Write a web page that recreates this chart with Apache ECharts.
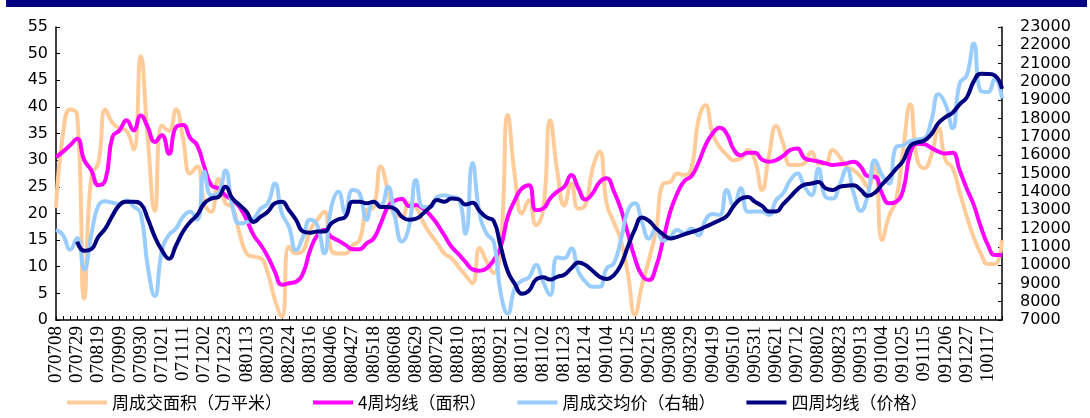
<!DOCTYPE html>
<html>
<head>
<meta charset="utf-8">
<script src="https://cdn.jsdelivr.net/npm/echarts@6/dist/echarts.min.js"></script>
<style>
  html, body { margin: 0; padding: 0; background: #fff; }
  #chart { width: 1090px; height: 418px; }
</style>
</head>
<body>
<div id="chart"></div>
<script>
// 周次（每周日期）
const weeks = [
  '070708','070715','070722','070729','070805','070812','070819','070826','070902','070909',
  '070916','070923','070930','071007','071014','071021','071028','071104','071111','071118',
  '071125','071202','071209','071216','071223','071230','080106','080113','080120','080127',
  '080203','080210','080217','080224','080302','080309','080316','080323','080330','080406',
  '080413','080420','080427','080504','080511','080518','080525','080601','080608','080615',
  '080622','080629','080706','080713','080720','080727','080803','080810','080817','080824',
  '080831','080907','080914','080921','080928','081005','081012','081019','081026','081102',
  '081109','081116','081123','081130','081207','081214','081221','081228','090104','090111',
  '090118','090125','090201','090208','090215','090222','090301','090308','090315','090322',
  '090329','090405','090412','090419','090426','090503','090510','090517','090524','090531',
  '090607','090614','090621','090628','090705','090712','090719','090726','090802','090809',
  '090816','090823','090830','090906','090913','090920','090927','091004','091011','091018',
  '091025','091101','091108','091115','091122','091129','091206','091213','091220','091227',
  '100103','100110','100117','100124','100131'
];

// 周成交面积（万平米）
const weeklyArea = [
  21, 35, 39.5, 38.5, 4, 27, 29.5, 39.5, 37, 36,
  35.5, 32, 49.5, 34, 20.5, 36.5, 35.5, 39.5, 34, 27.5,
  28.8, 21.9, 20.3, 26.5, 21.9, 21.2, 16.2, 12.5, 11.9, 11.6,
  8.8, 3.8, 0.6, 13.8, 12.5, 13, 16.9, 18.8, 20.3, 13.1,
  12.5, 12.5, 14, 15, 20.6, 21.2, 28.8, 24.4, 19.7, 19.4,
  21.9, 21.2, 18.4, 16.2, 14.4, 12.5, 11.6, 10, 8.4, 6.9,
  13.5, 11, 8.8, 14, 38.5, 27, 20, 22.5, 17.8, 20.6,
  37.5, 28, 21.5, 25.6, 20.9, 21.6, 28.4, 31.6, 21.9, 18.4,
  15, 8.75, 1, 6.5, 11.4, 16.9, 25.6, 25.9, 27.5, 27.2,
  28.4, 37.5, 40.3, 35, 32.5, 31, 30, 30.3, 31.9, 30,
  24.4, 30.9, 36.4, 33.1, 29.1, 29.1, 29.4, 31.6, 29.4, 29.4,
  31.9, 30.6, 28.75, 28.1, 26.9, 25, 29.5, 15, 19.5, 22.5,
  32, 40.5, 30, 28.5, 31, 36, 30, 28.5, 24, 19.5,
  15.5, 12.5, 10.5, 10.5, 15
];

// 4周均线（面积）
const areaMA4 = [
  30.6, 31.6, 32.8, 34, 30, 28.1, 25.3, 26.3, 34.4, 35.6,
  37.5, 35.6, 38.4, 36.2, 33.4, 34.7, 31.2, 36.2, 36.6, 34.2,
  32.8, 28.8, 25.3, 24.7, 23.4, 22.5, 21.2, 18.8, 15.9, 14.1,
  11.9, 9.1, 6.6, 6.9, 7.2, 8.8, 13.1, 15.9, 16.9, 15.6,
  14.9, 14.1, 13.3, 13.3, 14.4, 15.3, 18.1, 21.2, 22.4, 22.7,
  21.4, 21.6, 20.9, 19.7, 18, 15.9, 13.8, 12.4, 10.9, 9.5,
  9.25, 9.7, 11.25, 13.75, 19.4, 22.5, 24.7, 25.3, 20.6, 20.9,
  22.8, 24.1, 25, 27.2, 24.7, 22.6, 23.75, 25.9, 26.6, 24.25,
  20.9, 16.25, 11.6, 8.4, 7.5, 10, 15, 20.3, 23.75, 26.1,
  27, 29.5, 32.8, 35, 36.1, 35, 32, 30.9, 31.4, 31.4,
  30.1, 29.7, 30, 30.8, 31.9, 32.2, 30.4, 30, 29.75, 29.4,
  29.1, 29.25, 29.4, 29.7, 28.75, 27, 26.9, 23.75, 21.9, 22.2,
  24.4, 31.25, 33.1, 33, 32.3, 31.6, 31.25, 31.4, 28.1, 24.7,
  21.6, 17.5, 14.1, 12.2, 12.2
];

// 周成交均价（右轴，元/平米）
const weeklyPrice = [
  11920, 11630, 10840, 11480, 9760, 11650, 13250, 13490, 13400, 13340,
  13520, 13200, 12820, 9910, 8310, 10780, 11650, 12000, 12640, 12910,
  12470, 15090, 13810, 13920, 15170, 13170, 12270, 12350, 12530, 13080,
  13370, 14450, 12820, 12090, 10810, 11540, 12470, 12180, 10640, 13170,
  14010, 12820, 14100, 13920, 12470, 13460, 13280, 14270, 12640, 11280,
  12090, 14650, 13170, 13170, 13720, 13810, 13720, 13630, 11710, 15580,
  12820, 11710, 11280, 8450, 7360, 8750, 9150, 9330, 10000, 9090,
  8370, 10420, 10370, 10900, 9650, 9090, 8820, 8820, 9820, 10080,
  11360, 12960, 13370, 12350, 11450, 12000, 11330, 11540, 11920, 11730,
  12000, 11630, 12450, 12790, 12730, 14100, 13250, 14190, 12910, 12930,
  12930, 12730, 13550, 13910, 14640, 15000, 14300, 13810, 15260, 13720,
  13630, 14360, 15260, 13910, 12960, 13840, 15730, 14910, 14450, 16450,
  16540, 16770, 16860, 16920, 17910, 19330, 18780, 17470, 19920, 20350,
  22100, 19510, 19450, 20180, 19100
];

// 四周均线（价格）
const priceMA4 = [
  null, null, null, 11280, 10780, 10870, 11540, 12000, 12700, 13280,
  13460, 13460, 13340, 12530, 11540, 10810, 10350, 11070, 11830, 12350,
  12730, 13370, 13630, 13720, 14270, 13630, 13280, 12910, 12350, 12640,
  12910, 13370, 13460, 12990, 12470, 11830, 11770, 11830, 11830, 12270,
  12500, 12640, 13460, 13460, 13370, 13460, 13170, 13170, 13080, 12640,
  12470, 12530, 12820, 13170, 13550, 13460, 13630, 13600, 13310, 13400,
  12960, 12600, 12410, 11000, 9650, 8960, 8430, 8600, 9210, 9330,
  9210, 9360, 9470, 9820, 10140, 10000, 9690, 9360, 9240, 9440,
  10000, 11000, 11950, 12600, 12410, 12000, 11680, 11450, 11540, 11680,
  11800, 11920, 12090, 12270, 12450, 12670, 13230, 13620, 13720, 13460,
  13230, 12930, 12930, 13330, 13720, 14130, 14390, 14450, 14530, 14190,
  14100, 14270, 14330, 14360, 14100, 13780, 13950, 14400, 14800, 15250,
  15700, 16500, 16700, 16800, 17150, 17760, 18080, 18320, 18780, 19150,
  20030, 20450, 20440, 20350, 19630
];

const seriesNames = ['周成交面积（万平米）', '4周均线（面积）', '周成交均价（右轴）', '四周均线（价格）'];
const seriesColors = ['#FFCC99', '#FF00FF', '#99CCFF', '#000080'];

const chart = echarts.init(document.getElementById('chart'));

const axisFont = { fontFamily: 'DejaVu Sans', fontSize: 16, color: '#000' };

function lineSeries(i, data, axisIndex) {
  return {
    name: seriesNames[i], type: 'line', data: data, yAxisIndex: axisIndex,
    smooth: true, symbol: 'none',
    lineStyle: { color: seriesColors[i], width: 4 },
    itemStyle: { color: seriesColors[i] }
  };
}

chart.setOption({
  animation: false,
  backgroundColor: '#fff',
  graphic: [{
    type: 'rect',
    shape: { x: 6, y: 0, width: 1081, height: 7 },
    style: { fill: '#000080' }
  }],
  grid: { left: 56, right: 88, top: 27, bottom: 98 },
  legend: {
    left: 62,
    top: 389,
    itemWidth: 40,
    itemHeight: 4,
    itemGap: 31,
    icon: 'rect',
    textStyle: { fontFamily: 'Noto Sans CJK SC', fontSize: 17, color: '#000' },
    data: seriesNames
  },
  xAxis: {
    type: 'category',
    data: weeks,
    boundaryGap: false,
    axisLine: { lineStyle: { color: '#000', width: 1.5 } },
    axisTick: { inside: true, interval: 0, length: 4, lineStyle: { color: '#000' } },
    axisLabel: {
      interval: 2,
      rotate: 90,
      margin: 6,
      fontFamily: 'Liberation Serif, serif',
      fontSize: 19,
      color: '#000'
    },
    splitLine: { show: false }
  },
  yAxis: [
    {
      type: 'value',
      min: 0,
      max: 55,
      interval: 5,
      axisLine: { show: true, lineStyle: { color: '#000', width: 1.5 } },
      axisTick: { show: true, inside: true, length: 4, lineStyle: { color: '#000' } },
      axisLabel: Object.assign({ margin: 8 }, axisFont),
      splitLine: { show: false }
    },
    {
      type: 'value',
      min: 7000,
      max: 23000,
      interval: 1000,
      axisLine: { show: true, lineStyle: { color: '#000', width: 1.5 } },
      axisTick: { show: true, inside: true, length: 4, lineStyle: { color: '#000' } },
      axisLabel: Object.assign({ margin: 18, formatter: v => String(v) }, axisFont),
      splitLine: { show: false }
    }
  ],
  series: [
    lineSeries(0, weeklyArea, 0),
    lineSeries(1, areaMA4, 0),
    lineSeries(2, weeklyPrice, 1),
    lineSeries(3, priceMA4, 1)
  ]
});
</script>
</body>
</html>
